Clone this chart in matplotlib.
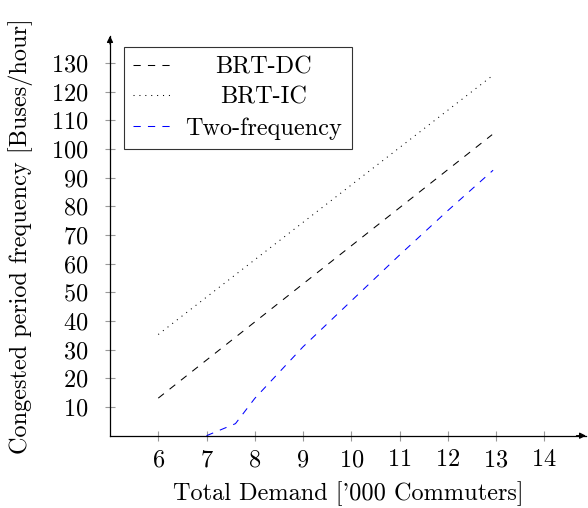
import matplotlib
matplotlib.use("Agg")
import matplotlib.pyplot as plt
from matplotlib.transforms import Affine2D
from matplotlib.lines import Line2D
import numpy as np

plt.rcParams['font.family'] = ['cmr10', 'DejaVu Serif']
plt.rcParams['axes.formatter.use_mathtext'] = True
plt.rcParams['lines.scale_dashes'] = False

# Data
demand_brt = [6.0, 12.92]
brt_dc = [13.1, 105.0]
brt_ic = [35.3, 125.5]
demand_two = [7.0, 7.6, 8.0, 8.5, 9.0, 10.0, 11.0, 12.0, 12.94]
two_freq = [0.0, 4.2, 13.0, 22.0, 31.0, 47.0, 63.0, 78.5, 92.6]

labels = ['BRT-DC', 'BRT-IC', 'Two-frequency']
colors = ['black', 'black', 'blue']
xticks = [6, 7, 8, 9, 10, 11, 12, 13, 14]
yticks = list(range(10, 131, 10))

W, H = 588, 508
fig = plt.figure(figsize=(W / 100, H / 100), dpi=100)
x0, x1 = 110.0, 586.0
y0, y1 = 435.7, 36.0
ax = fig.add_axes([x0 / W, 1 - y0 / H, (x1 - x0) / W, (y0 - y1) / H])
ax.set_xlim(5.0, 5.0 + (x1 - x0) / 48.25)
ax.set_ylim(0, (y0 - y1) / 2.867)

fs = 17.5
dash = (5.2, 5.2)
dots = (0.75, 3.5)
styles = [dash, dots, dash]
ax.plot(demand_brt, brt_dc, color=colors[0], lw=0.75, dashes=styles[0], label=labels[0])
ax.plot(demand_brt, brt_ic, color=colors[1], lw=0.75, dashes=styles[1], label=labels[1])
ax.plot(demand_two, two_freq, color=colors[2], lw=0.75, dashes=styles[2], label=labels[2])

for s in ['top', 'right']:
    ax.spines[s].set_visible(False)
for s in ['left', 'bottom']:
    ax.spines[s].set_linewidth(0.9)
ax.annotate('', xy=(1, 0), xytext=(0.98, 0), xycoords='axes fraction',
            arrowprops=dict(arrowstyle='-|>', color='black', lw=0.9, mutation_scale=9,
                            shrinkA=0, shrinkB=0))
ax.annotate('', xy=(0, 1), xytext=(0, 0.98), xycoords='axes fraction',
            arrowprops=dict(arrowstyle='-|>', color='black', lw=0.9, mutation_scale=9,
                            shrinkA=0, shrinkB=0))

ax.set_xticks(xticks)
ax.set_yticks(yticks)
ax.tick_params(axis='both', direction='inout', length=7, width=0.8, color='0.6',
               labelsize=fs, labelcolor='black')
ax.tick_params(axis='x', pad=6)
ax.tick_params(axis='y', pad=12)

ax.set_xlabel("Total Demand ['000 Commuters]", fontsize=fs)
ax.set_ylabel("Congested period frequency [Buses/hour]", fontsize=fs)
ax.xaxis.set_label_coords(0.5, -(481 - y0) / (y0 - y1))
ax.yaxis.set_label_coords((33 - x0) / (x1 - x0), 0.5)

leg = ax.legend(loc='upper left',
                bbox_to_anchor=((124 - x0) / (x1 - x0), (y0 - 47) / (y0 - y1)),
                fontsize=fs, frameon=True, fancybox=False, edgecolor='black',
                handlelength=1.65, handletextpad=0.5, borderpad=0.38, labelspacing=0.34,
                borderaxespad=0)
leg.get_frame().set_linewidth(0.8)
for ln, c, d in zip(leg.get_lines(), colors, styles):
    ln.set_color(c)
    ln.set_dashes(d)

fig.canvas.draw()
r = fig.canvas.get_renderer()
texts = leg.get_texts()
widths = [t.get_window_extent(r).width for t in texts]
wmax = max(widths)
for t, w in zip(texts, widths):
    t.set_transform(t.get_transform() + Affine2D().translate((wmax - w) / 2, 0))

fig.savefig('out.png', dpi=100)
